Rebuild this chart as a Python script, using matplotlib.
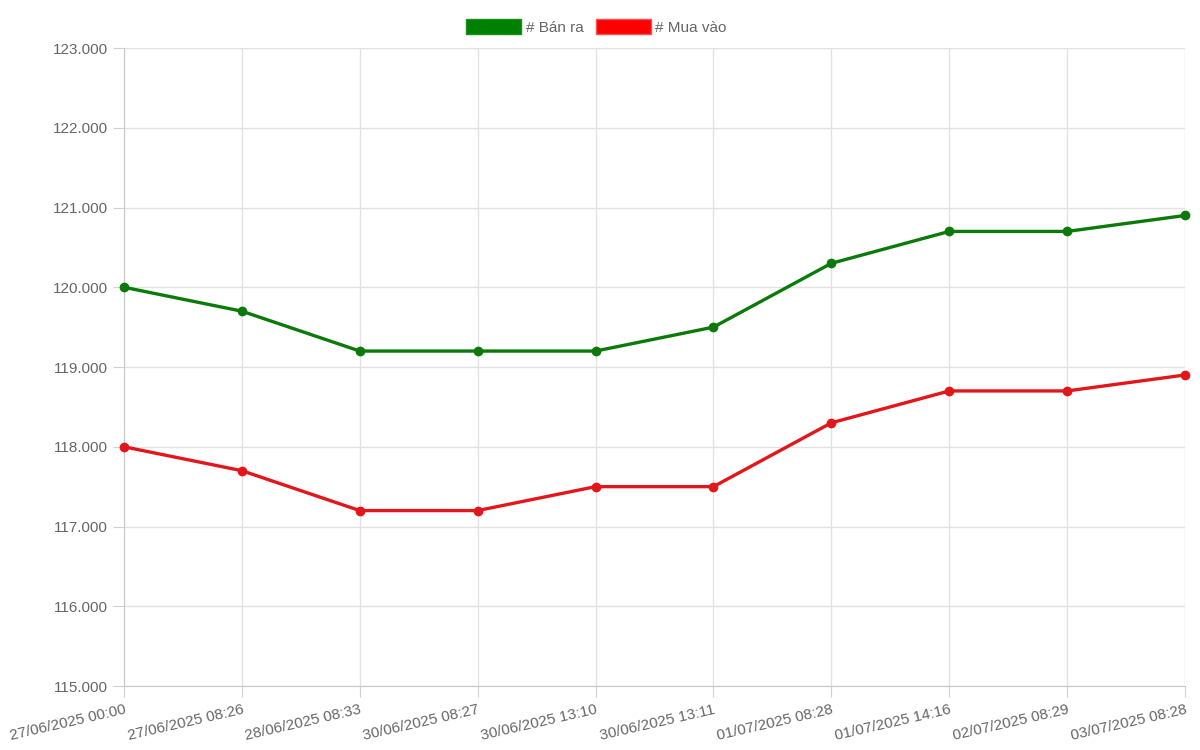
import matplotlib.pyplot as plt
from matplotlib.patches import Patch
from matplotlib.ticker import FuncFormatter

plt.rcParams['font.family'] = ['Liberation Sans', 'DejaVu Sans']

# Dados do gráfico
nhan = ['27/06/2025 00:00', '27/06/2025 08:26', '28/06/2025 08:33', '30/06/2025 08:27',
        '30/06/2025 13:10', '30/06/2025 13:11', '01/07/2025 08:28', '01/07/2025 14:16',
        '02/07/2025 08:29', '03/07/2025 08:28']
ban_ra = [120000, 119700, 119200, 119200, 119200, 119500, 120300, 120700, 120700, 120900]
mua_vao = [118000, 117700, 117200, 117200, 117500, 117500, 118300, 118700, 118700, 118900]

cor_verde = '#0b7a0b'
cor_vermelha = '#e3161b'

fig = plt.figure(figsize=(12, 7.5), dpi=100)
ax = fig.add_axes([0.1033, 0.0853, 0.8842, 0.8507])

x = list(range(len(nhan)))
ax.plot(x, ban_ra, color=cor_verde, lw=2.4, marker='o', ms=6, zorder=3, clip_on=False)
ax.plot(x, mua_vao, color=cor_vermelha, lw=2.4, marker='o', ms=6, zorder=3, clip_on=False)

ax.set_xlim(0, len(nhan) - 1)
ax.set_ylim(115000, 123000)
ax.set_yticks(range(115000, 123001, 1000))
ax.yaxis.set_major_formatter(FuncFormatter(lambda v, p: f'{int(v):,}'.replace(',', '.')))
ax.set_xticks(x)
ax.set_xticklabels(nhan, rotation=13, ha='right', rotation_mode='anchor')

ax.grid(True, color='#e2e2e2', lw=1)
ax.set_axisbelow(True)
for lado in ['top', 'right']:
    ax.spines[lado].set_visible(False)
for lado in ['left', 'bottom']:
    ax.spines[lado].set_color('#c8c8c8')
ax.tick_params(axis='both', colors='#d0d0d0', length=8, labelcolor='#666666', labelsize=11)
ax.tick_params(axis='x', pad=4)

# Legenda no topo
itens = [Patch(facecolor='#008000', edgecolor='#1a8f1a', label='# Bán ra'),
         Patch(facecolor='#ff0000', edgecolor='#ff5050', label='# Mua vào')]
fig.legend(handles=itens, loc='center', bbox_to_anchor=(0.497, 0.964), ncol=2, frameon=False,
           handlelength=3.6, handleheight=1.1, handletextpad=0.3, columnspacing=0.8,
           fontsize=11, labelcolor='#666666')

plt.savefig('out.png', dpi=100)
